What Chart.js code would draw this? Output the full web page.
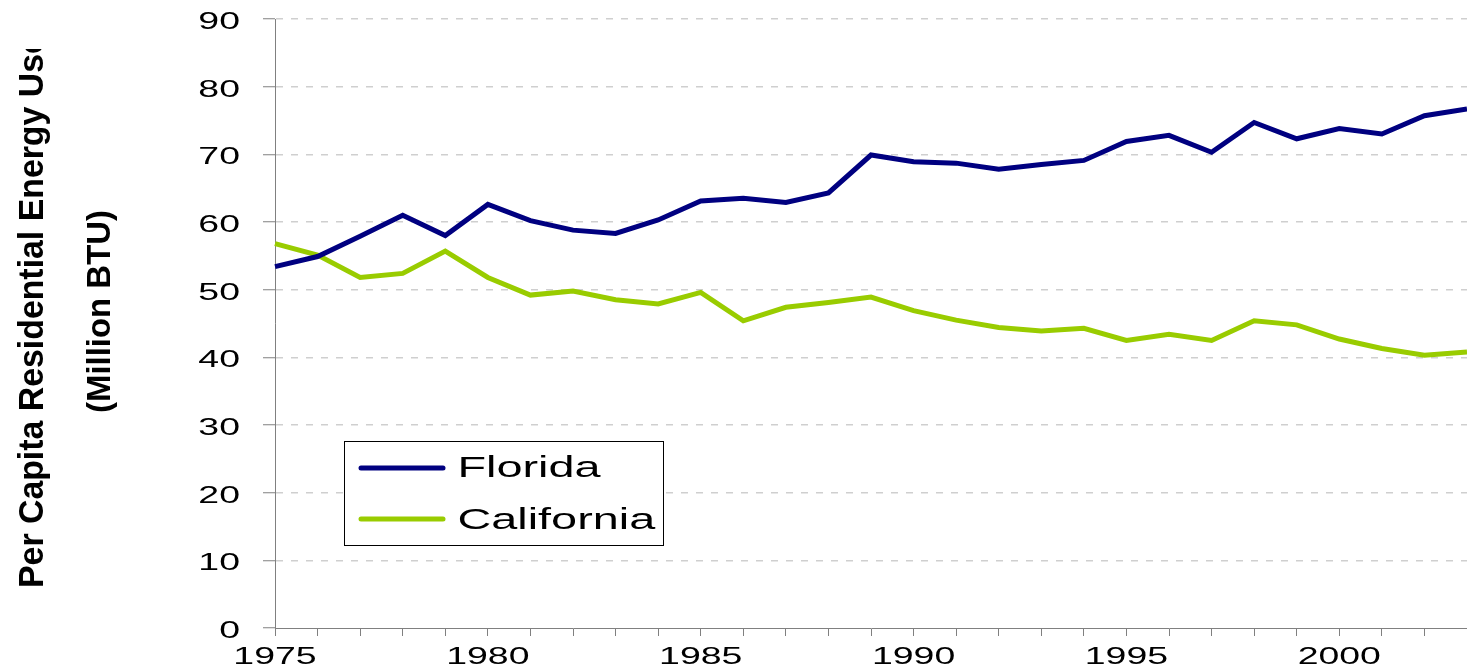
<!DOCTYPE html>
<html>
<head>
<meta charset="utf-8">
<script src="https://cdn.jsdelivr.net/npm/chart.js@4"></script>
<style>
  html, body { margin: 0; padding: 0; background: #ffffff; }
  #wrap { position: relative; width: 1467px; height: 671px; }
</style>
</head>
<body>
<div id="wrap"><canvas id="c"></canvas></div>
<script>
// ---- Data ----
const years = ['1975','1976','1977','1978','1979','1980','1981','1982','1983','1984',
               '1985','1986','1987','1988','1989','1990','1991','1992','1993','1994',
               '1995','1996','1997','1998','1999','2000','2001','2002','2003'];
const floridaValues = [53.4, 54.9, 57.9, 61.0, 58.0, 62.6, 60.2, 58.8, 58.3, 60.3,
                       63.1, 63.5, 62.9, 64.3, 69.9, 68.9, 68.7, 67.8, 68.5, 69.1,
                       71.9, 72.8, 70.3, 74.7, 72.3, 73.8, 73.0, 75.7, 76.7];
const californiaValues = [56.8, 55.1, 51.8, 52.4, 55.7, 51.8, 49.2, 49.8, 48.5, 47.9,
                          49.6, 45.4, 47.4, 48.1, 48.9, 46.9, 45.5, 44.4, 43.9, 44.3,
                          42.5, 43.4, 42.5, 45.4, 44.8, 42.7, 41.3, 40.3, 40.8];
const xTickLabels = ['1975','1980','1985','1990','1995','2000'];
const yTickValues = [0, 10, 20, 30, 40, 50, 60, 70, 80, 90];
const seriesNames = ['Florida', 'California'];
const yTitleLines = ['Per Capita Residential Energy Use', '(Million BTU)'];

// ---- Styles ----
const NAVY = '#000080';
const GREEN = '#99CC00';
const AXIS = '#808080';
const GRID = '#CFCFCF';
const FONT = '"Liberation Sans", Arial, sans-serif';
const STRETCH = 1.56;

const textPlugin = {
  id: 'customText',
  afterDraw(chart) {
    const ctx = chart.ctx;
    const xs = chart.scales.x, ys = chart.scales.y;
    ctx.save();
    ctx.fillStyle = '#000000';
    ctx.font = '24px ' + FONT;
    // Y tick labels
    yTickValues.forEach(v => {
      const y = ys.getPixelForValue(v);
      ctx.save();
      ctx.translate(240, y + 10);
      ctx.scale(STRETCH, 1);
      ctx.textAlign = 'right';
      ctx.textBaseline = 'alphabetic';
      ctx.fillText(String(v), 0, 0);
      ctx.restore();
    });
    // X tick labels
    xTickLabels.forEach(lbl => {
      const x = xs.getPixelForValue(years.indexOf(lbl));
      ctx.save();
      ctx.translate(x, 664);
      ctx.scale(STRETCH, 1);
      ctx.textAlign = 'center';
      ctx.textBaseline = 'alphabetic';
      ctx.fillText(lbl, 0, 0);
      ctx.restore();
    });
    // Y axis title (two rotated lines)
    ctx.save();
    ctx.beginPath();
    ctx.rect(0, 49, 80, 671);
    ctx.clip();
    ctx.font = 'bold 35px ' + FONT;
    const partW = ctx.measureText('Per Capita Residential Energy Us').width;
    const s1 = 534 / partW;
    ctx.translate(43, 588);
    ctx.rotate(-Math.PI / 2);
    ctx.scale(s1, 1);
    ctx.textAlign = 'left';
    ctx.textBaseline = 'alphabetic';
    ctx.fillText(yTitleLines[0], 0, 0);
    ctx.restore();

    ctx.save();
    ctx.font = 'bold 34px ' + FONT;
    const w2 = ctx.measureText(yTitleLines[1]).width;
    const s2 = 203 / w2;
    ctx.translate(110, 311.5);
    ctx.rotate(-Math.PI / 2);
    ctx.scale(s2, 1);
    ctx.textAlign = 'center';
    ctx.textBaseline = 'alphabetic';
    ctx.fillText(yTitleLines[1], 0, 0);
    ctx.restore();

    // Legend
    ctx.fillStyle = '#ffffff';
    ctx.fillRect(344.5, 441.5, 319, 104);
    ctx.strokeStyle = '#000000';
    ctx.lineWidth = 1;
    ctx.strokeRect(344.5, 441.5, 319, 104);
    const legendRows = [
      { name: seriesNames[0], color: NAVY, y: 468, base: 477 },
      { name: seriesNames[1], color: GREEN, y: 519, base: 529 }
    ];
    legendRows.forEach(r => {
      ctx.strokeStyle = r.color;
      ctx.lineWidth = 5;
      ctx.lineCap = 'round';
      ctx.beginPath();
      ctx.moveTo(361, r.y);
      ctx.lineTo(443, r.y);
      ctx.stroke();
      ctx.save();
      ctx.fillStyle = '#000000';
      ctx.font = '30px ' + FONT;
      ctx.translate(457.5, r.base);
      ctx.scale(STRETCH, 1);
      ctx.textAlign = 'left';
      ctx.textBaseline = 'alphabetic';
      ctx.fillText(r.name, 0, 0);
      ctx.restore();
    });
    ctx.restore();
  }
};

new Chart(document.getElementById('c'), {
  type: 'line',
  data: {
    labels: years,
    datasets: [
      { label: seriesNames[0], data: floridaValues, borderColor: NAVY, backgroundColor: NAVY,
        borderWidth: 5, pointRadius: 0, tension: 0, fill: false, borderJoinStyle: 'miter' },
      { label: seriesNames[1], data: californiaValues, borderColor: GREEN, backgroundColor: GREEN,
        borderWidth: 5, pointRadius: 0, tension: 0, fill: false, borderJoinStyle: 'miter' }
    ]
  },
  options: {
    responsive: true,
    maintainAspectRatio: false,
    animation: false,
    devicePixelRatio: 1,
    layout: { padding: { top: 19, right: 0, left: 0, bottom: 0 } },
    plugins: { legend: { display: false }, tooltip: { enabled: false }, title: { display: false } },
    scales: {
      x: {
        type: 'category',
        offset: false,
        ticks: { display: false, autoSkip: false },
        grid: { display: true, drawOnChartArea: false, drawTicks: true, tickLength: 8,
                tickColor: AXIS, tickWidth: 1, tickBorderDash: [], color: AXIS },
        border: { display: true, color: AXIS, width: 1 },
        afterFit: s => { s.height = 43; }
      },
      y: {
        type: 'linear',
        min: 0, max: 90,
        ticks: { display: false, stepSize: 10 },
        grid: { display: true, drawOnChartArea: true, drawTicks: true, tickLength: 12,
                tickColor: AXIS, tickWidth: 1, tickBorderDash: [],
                color: c => (c.tick && c.tick.value === 0) ? 'rgba(0,0,0,0)' : GRID, lineWidth: 1.5 },
        border: { display: true, color: AXIS, width: 1, dash: [7, 8] },
        afterFit: s => { s.width = 275; }
      }
    }
  },
  plugins: [textPlugin]
});
</script>
</body>
</html>
